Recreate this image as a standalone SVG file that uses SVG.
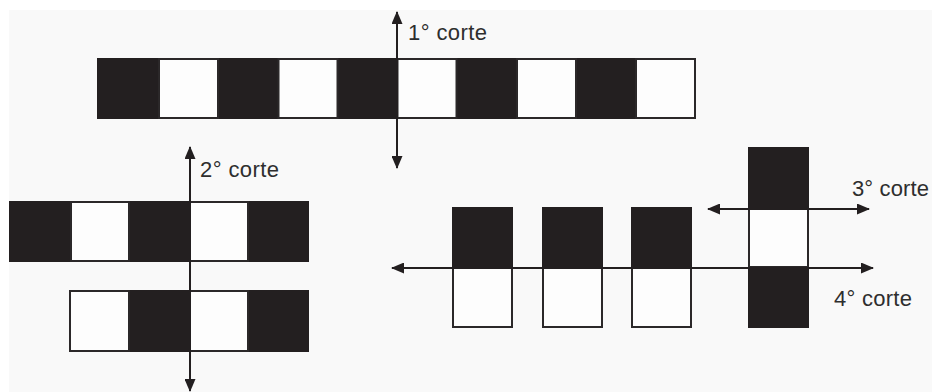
<svg xmlns="http://www.w3.org/2000/svg" width="932" height="392" viewBox="0 0 932 392">
  <style>
    .blk { fill: #231f20; }
    .wht { fill: #fdfdfd; stroke: #2b2829; stroke-width: 2; }
    .lbl { font-family: "Liberation Sans", Arial, sans-serif; font-size: 22px; fill: #2e2e2e; }
    .arr { stroke: #231f20; stroke-width: 2; fill: none; marker-start: url(#ah); marker-end: url(#ah); }
  </style>
  <defs>
    <marker id="ah" markerUnits="userSpaceOnUse" markerWidth="13" markerHeight="11" refX="12" refY="5.5" orient="auto-start-reverse" viewBox="0 0 13 11">
      <path d="M0,0 L13,5.5 L0,11 z" fill="#231f20"/>
    </marker>
  </defs>
  <rect x="0" y="0" width="932" height="392" fill="#ffffff"/>
  <rect x="9" y="10" width="923" height="382" fill="#f9f9f9"/>

  <g id="strip-top">
    <rect class="blk" x="97" y="58" width="598" height="61"/>
    <rect class="wht" x="159" y="59" width="59" height="59"/>
    <rect class="wht" x="278.5" y="59" width="59" height="59"/>
    <rect class="wht" x="397.5" y="59" width="59" height="59"/>
    <rect class="wht" x="517" y="59" width="59" height="59"/>
    <rect class="wht" x="636" y="59" width="59" height="59"/>
  </g>

  <g id="strip-left-a">
    <rect class="blk" x="9" y="201" width="300" height="61"/>
    <rect class="wht" x="71" y="202" width="58" height="59"/>
    <rect class="wht" x="190" y="202" width="58" height="59"/>
  </g>

  <g id="strip-left-b">
    <rect class="blk" x="69" y="290" width="240" height="62"/>
    <rect class="wht" x="70" y="291" width="59" height="60"/>
    <rect class="wht" x="190" y="291" width="58" height="60"/>
  </g>

  <g id="piece-1">
    <rect class="blk" x="452" y="207" width="61" height="61"/>
    <rect class="wht" x="453" y="268" width="59" height="59"/>
  </g>
  <g id="piece-2">
    <rect class="blk" x="542" y="207" width="61" height="61"/>
    <rect class="wht" x="543" y="268" width="59" height="59"/>
  </g>
  <g id="piece-3">
    <rect class="blk" x="631" y="207" width="61" height="61"/>
    <rect class="wht" x="632" y="268" width="59" height="59"/>
  </g>

  <g id="column">
    <rect class="blk" x="748" y="147" width="61" height="181"/>
    <rect class="wht" x="749" y="209" width="59" height="58"/>
  </g>

  <g id="connectors">
    <line class="arr" x1="397" y1="12" x2="397" y2="168"/>
    <line class="arr" x1="190" y1="147" x2="190" y2="391"/>
    <line class="arr" x1="708" y1="209" x2="869" y2="209"/>
    <line class="arr" x1="392" y1="268" x2="873" y2="268"/>
  </g>

  <g id="labels">
    <text class="lbl" x="408" y="40" textLength="79" lengthAdjust="spacing">1° corte</text>
    <text class="lbl" x="200" y="177" textLength="79" lengthAdjust="spacing">2° corte</text>
    <text class="lbl" x="852" y="196" textLength="77" lengthAdjust="spacing">3° corte</text>
    <text class="lbl" x="834" y="306" textLength="78" lengthAdjust="spacing">4° corte</text>
  </g>
</svg>
